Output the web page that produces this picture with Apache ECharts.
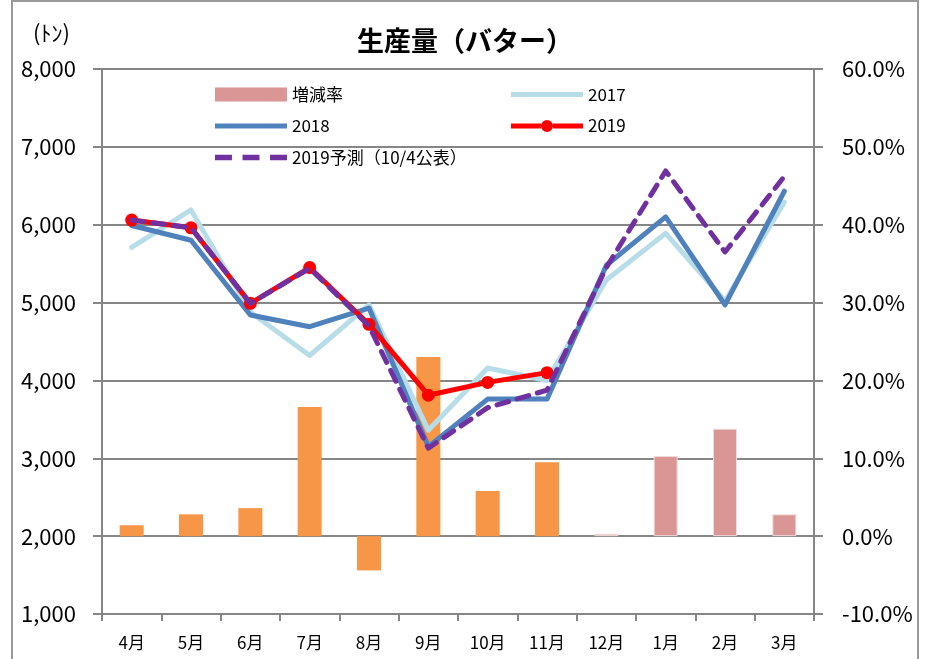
<!DOCTYPE html>
<html>
<head>
<meta charset="utf-8">
<script src="https://cdn.jsdelivr.net/npm/echarts@6/dist/echarts.min.js"></script>
<style>
  html, body { margin: 0; padding: 0; background: #fff; }
  #chart { width: 930px; height: 659px; }
</style>
</head>
<body>
<div id="chart"></div>
<script>
const months = ['4月', '5月', '6月', '7月', '8月', '9月', '10月', '11月', '12月', '1月', '2月', '3月']
// 増減率 (%), right axis
const changeRate = [1.4, 2.8, 3.6, 16.6, -4.4, 23.0, 5.8, 9.5, 0.3, 10.3, 13.8, 2.8]
// production (t), left axis
const prod2017 = [5710, 6190, 4880, 4320, 4970, 3360, 4160, 4000, 5290, 5890, 5020, 6290]
const prod2018 = [5990, 5800, 4840, 4690, 4930, 3150, 3760, 3760, 5480, 6100, 4970, 6430]
const prod2019 = [6060, 5960, 4990, 5450, 4720, 3810, 3975, 4100, null, null, null, null]
const forecast2019 = [6060, 5960, 4990, 5440, 4700, 3130, 3650, 3875, 5450, 6690, 5650, 6620]
const leftTicks = { min: 1000, max: 8000, interval: 1000 }
const rightTicks = { min: -10, max: 60, interval: 10 }
// months that are actual results (orange), the rest are pink
const actualCount = 8

const font = '"Noto Sans CJK JP", "Noto Sans", sans-serif'
const axisGray = '#868686'
const orange = '#F79646'
const pink = '#D99694'

// legend icons drawn as plain thick lines, like the spreadsheet legend
const iconLine = 'path://M0,0h72v5h-72z'
const iconDash = 'path://M2,0h16v5h-16z M28,0h16v5h-16z M54,0h16v5h-16z'
const iconLineDot = 'path://M0,4.5h30v5h-30z M42,4.5h30v5h-30z M30,7a6,6 0 1,0 12,0a6,6 0 1,0 -12,0z'

const chart = echarts.init(document.getElementById('chart'))

chart.setOption({
  textStyle: { fontFamily: font },
  animation: false,
  title: {
    text: '生産量（バター）',
    left: 'center',
    top: 22,
    textStyle: { fontSize: 27, fontWeight: 'bold', color: '#000', fontFamily: font },
  },
  graphic: [
    {
      type: 'rect',
      shape: { x: 12, y: 1, width: 906, height: 680 },
      style: { fill: 'none', stroke: '#9a9a9a', lineWidth: 2 },
    },
    {
      type: 'text',
      left: 33,
      top: 22,
      style: { text: '(ﾄﾝ)', fontSize: 22, fill: '#000', fontFamily: font },
    },
  ],
  legend: [
    {
      orient: 'vertical',
      left: 210,
      top: 81,
      itemWidth: 72,
      itemHeight: 14,
      itemGap: 14.5,
      symbolKeepAspect: true,
      textStyle: { fontSize: 17, color: '#000', fontFamily: font },
      data: [
        { name: '増減率', icon: 'rect' },
        { name: '2018', icon: iconLine },
        { name: '2019予測（10/4公表）', icon: iconDash },
      ],
    },
    {
      orient: 'vertical',
      left: 506,
      top: 81,
      itemWidth: 72,
      itemHeight: 14,
      itemGap: 14.5,
      symbolKeepAspect: true,
      textStyle: { fontSize: 17, color: '#000', fontFamily: font },
      data: [
        { name: '2017', icon: iconLine },
        { name: '2019', icon: iconLineDot },
      ],
    },
  ],
  grid: { left: 102, right: 116, top: 69, bottom: 45 },
  xAxis: {
    type: 'category',
    data: months,
    axisLine: { onZero: false, lineStyle: { color: axisGray, width: 2 } },
    axisTick: { show: true, length: 7, lineStyle: { color: axisGray, width: 2 } },
    axisLabel: { color: '#000', fontSize: 17, margin: 20, fontFamily: font },
  },
  yAxis: [
    {
      type: 'value',
      ...leftTicks,
      axisLine: { show: true, lineStyle: { color: axisGray, width: 2 } },
      axisTick: { show: true, length: 9, lineStyle: { color: axisGray, width: 2 } },
      axisLabel: {
        color: '#000',
        fontSize: 22,
        margin: 26,
        fontFamily: font,
        formatter: (v) => v.toLocaleString('en-US'),
      },
      splitLine: { lineStyle: { color: axisGray, width: 2 } },
    },
    {
      type: 'value',
      ...rightTicks,
      axisLine: { show: true, lineStyle: { color: axisGray, width: 2 } },
      axisTick: { show: true, length: 9, lineStyle: { color: axisGray, width: 2 } },
      axisLabel: {
        color: '#000',
        fontSize: 22,
        margin: 28,
        fontFamily: font,
        formatter: (v) => v.toFixed(1) + '%',
      },
      splitLine: { show: false },
    },
  ],
  series: [
    {
      name: '増減率',
      type: 'bar',
      yAxisIndex: 1,
      barWidth: 24,
      itemStyle: { color: pink },
      data: changeRate.map((v, i) => ({
        value: v,
        itemStyle: i < actualCount
          ? { color: orange }
          : { color: pink, borderColor: '#F2DCDB', borderWidth: 1 },
      })),
      z: 1,
    },
    {
      name: '2017',
      type: 'line',
      data: prod2017,
      symbol: 'none',
      lineStyle: { color: '#B7DEE8', width: 5, join: 'round', cap: 'round' },
      itemStyle: { color: '#B7DEE8' },
      z: 2,
    },
    {
      name: '2018',
      type: 'line',
      data: prod2018,
      symbol: 'none',
      lineStyle: { color: '#4F81BD', width: 5, join: 'round', cap: 'round' },
      itemStyle: { color: '#4F81BD' },
      z: 3,
    },
    {
      name: '2019',
      type: 'line',
      data: prod2019,
      symbol: 'circle',
      symbolSize: 13,
      lineStyle: { color: '#FF0000', width: 5, join: 'round', cap: 'round' },
      itemStyle: { color: '#FF0000' },
      z: 4,
    },
    {
      name: '2019予測（10/4公表）',
      type: 'line',
      data: forecast2019,
      symbol: 'none',
      lineStyle: { color: '#7030A0', width: 5, type: [12, 9], join: 'round', cap: 'round' },
      itemStyle: { color: '#7030A0' },
      z: 5,
    },
  ],
})
</script>
</body>
</html>
